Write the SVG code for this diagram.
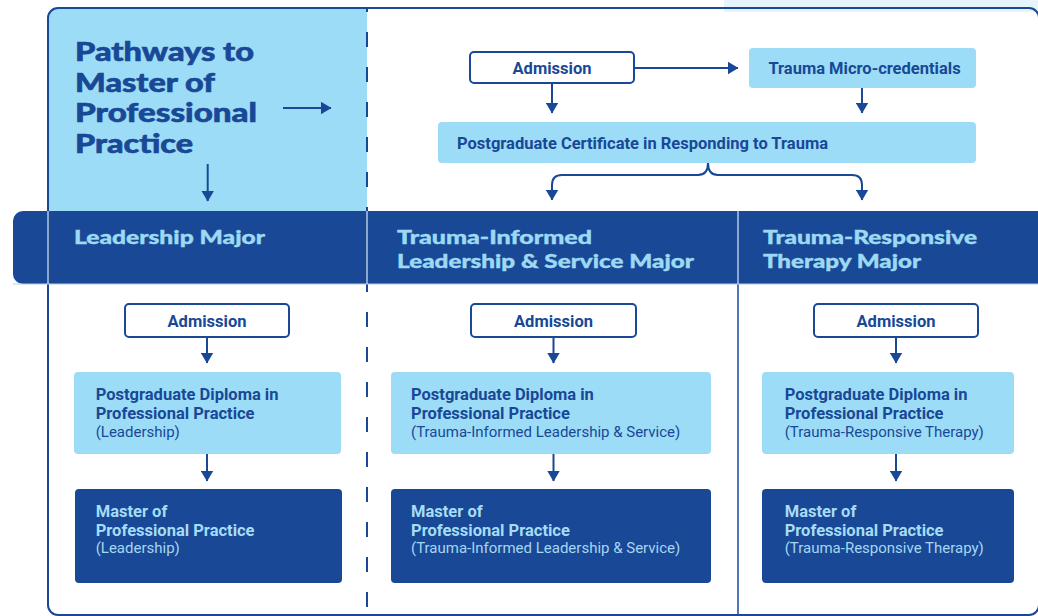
<svg xmlns="http://www.w3.org/2000/svg" width="1038" height="616" viewBox="0 0 1038 616">
<defs>
<marker id="ah" viewBox="0 0 11 13" refX="10.5" refY="6.5" markerWidth="11" markerHeight="13" markerUnits="userSpaceOnUse" orient="auto">
<path d="M0,0 L11,6.5 L0,13 Z" fill="#184896"/>
</marker>
<style>
.title{font-family:Lato,"Liberation Sans",sans-serif;font-weight:900;font-size:25.8px;fill:#184896;stroke:#184896;stroke-width:0.6}
.head{font-family:Lato,"Liberation Sans",sans-serif;font-weight:900;font-size:19.5px;fill:#9dd9f3;stroke:#9dd9f3;stroke-width:0.4}
.bt{font-family:Roboto,"Liberation Sans",sans-serif;font-weight:700;font-size:16.5px;fill:#184896}
.st{font-family:Roboto,"Liberation Sans",sans-serif;font-weight:400;font-size:15px;fill:#184896}
.btl{font-family:Roboto,"Liberation Sans",sans-serif;font-weight:700;font-size:16.5px;fill:#a6dcf5}
.stl{font-family:Roboto,"Liberation Sans",sans-serif;font-weight:400;font-size:15px;fill:#a6d6f2}
.white{fill:#ffffff;stroke:#184896;stroke-width:2}
.light{fill:#9ddcf7}
.dark{fill:#184896}
.conn{fill:none;stroke:#184896;stroke-width:2}
.mid{text-anchor:middle}
</style>
</defs>
<rect x="0" y="0" width="1038" height="616" fill="#ffffff"/>
<rect x="724" y="0" width="314" height="12" fill="#e6f5fb"/>
<g id="title-panel">
<path d="M48,211 V18 A10,10 0 0 1 58,8 H367 V211 Z" fill="#9ddcf7"/>
<text class="title" x="75" y="60.7" textLength="179" lengthAdjust="spacingAndGlyphs">Pathways to</text>
<text class="title" x="75" y="91.7" textLength="140" lengthAdjust="spacingAndGlyphs">Master of</text>
<text class="title" x="75" y="121.7" textLength="182" lengthAdjust="spacingAndGlyphs">Professional</text>
<text class="title" x="75" y="152.7" textLength="118" lengthAdjust="spacingAndGlyphs">Practice</text>
</g>
<rect x="48" y="8" width="991" height="607" rx="10" fill="none" stroke="#184896" stroke-width="2"/>
<line x1="367" y1="8" x2="367" y2="616" stroke="#184896" stroke-width="2" stroke-dasharray="15 20" stroke-dashoffset="11"/>
<line x1="738" y1="284" x2="738" y2="616" stroke="#184896" stroke-width="1.5"/>
<g id="band">
<path d="M23,211 H1038 V284 H23 A10,10 0 0 1 13,274 V221 A10,10 0 0 1 23,211 Z" fill="#184896"/>
<line x1="13" y1="284" x2="1038" y2="284" stroke="#b8cde6" stroke-width="1"/>
<line x1="48" y1="211" x2="48" y2="284" stroke="#dbe9f5" stroke-width="1.2"/>
<line x1="367" y1="211" x2="367" y2="284" stroke="#dbe9f5" stroke-width="1.2"/>
<line x1="738" y1="211" x2="738" y2="284" stroke="#dbe9f5" stroke-width="1.2"/>
</g>
<g id="head-leadership"><text class="head" x="74" y="244" textLength="191" lengthAdjust="spacingAndGlyphs">Leadership Major</text></g>
<g id="head-tils">
<text class="head" x="397" y="243.5" textLength="195" lengthAdjust="spacingAndGlyphs">Trauma-Informed</text>
<text class="head" x="397" y="267.5" textLength="297" lengthAdjust="spacingAndGlyphs">Leadership &amp; Service Major</text>
</g>
<g id="head-trt">
<text class="head" x="763" y="243.5" textLength="214" lengthAdjust="spacingAndGlyphs">Trauma-Responsive</text>
<text class="head" x="763" y="267.5" textLength="158" lengthAdjust="spacingAndGlyphs">Therapy Major</text>
</g>
<g id="admission-top">
<rect class="white" x="470" y="52" width="164" height="31" rx="4"/>
<text class="bt mid" x="552" y="74">Admission</text>
</g>
<g id="micro">
<rect class="light" x="749" y="48" width="227" height="40" rx="4"/>
<text class="bt mid" x="864.5" y="74">Trauma Micro-credentials</text>
</g>
<g id="cert">
<rect class="light" x="438" y="122" width="538" height="41" rx="4"/>
<text class="bt" x="457" y="149">Postgraduate Certificate in Responding to Trauma</text>
</g>
<g id="admission-l">
<rect class="white" x="125" y="304" width="164" height="33" rx="4"/>
<text class="bt mid" x="207" y="326.5">Admission</text>
</g>
<g id="diploma-l">
<rect class="light" x="74" y="372" width="267" height="82" rx="4"/>
<text class="bt" x="95.7" y="399.7">Postgraduate Diploma in</text>
<text class="bt" x="95.7" y="419.3">Professional Practice</text>
<text class="st" x="95.7" y="436.7">(Leadership)</text>
</g>
<g id="master-l">
<rect class="dark" x="75" y="489" width="267" height="94" rx="4"/>
<text class="btl" x="95.7" y="516.7">Master of</text>
<text class="btl" x="95.7" y="536">Professional Practice</text>
<text class="stl" x="95.7" y="553.3">(Leadership)</text>
</g>
<g id="admission-m">
<rect class="white" x="471" y="304" width="165" height="33" rx="4"/>
<text class="bt mid" x="553.5" y="326.5">Admission</text>
</g>
<g id="diploma-m">
<rect class="light" x="391" y="372" width="320" height="82" rx="4"/>
<text class="bt" x="411" y="399.7">Postgraduate Diploma in</text>
<text class="bt" x="411" y="419.3">Professional Practice</text>
<text class="st" x="411" y="436.7">(Trauma-Informed Leadership &amp; Service)</text>
</g>
<g id="master-m">
<rect class="dark" x="391" y="489" width="320" height="94" rx="4"/>
<text class="btl" x="411" y="516.7">Master of</text>
<text class="btl" x="411" y="536">Professional Practice</text>
<text class="stl" x="411" y="553.3">(Trauma-Informed Leadership &amp; Service)</text>
</g>
<g id="admission-r">
<rect class="white" x="814" y="304" width="164" height="33" rx="4"/>
<text class="bt mid" x="896" y="326.5">Admission</text>
</g>
<g id="diploma-r">
<rect class="light" x="762" y="372" width="252" height="82" rx="4"/>
<text class="bt" x="784.7" y="399.7">Postgraduate Diploma in</text>
<text class="bt" x="784.7" y="419.3">Professional Practice</text>
<text class="st" x="784.7" y="436.7">(Trauma-Responsive Therapy)</text>
</g>
<g id="master-r">
<rect class="dark" x="762" y="489" width="252" height="94" rx="4"/>
<text class="btl" x="784.7" y="516.7">Master of</text>
<text class="btl" x="784.7" y="536">Professional Practice</text>
<text class="stl" x="784.7" y="553.3">(Trauma-Responsive Therapy)</text>
</g>
<g id="connectors">
<path class="conn" d="M283,108 H331" marker-end="url(#ah)"/>
<path class="conn" d="M207.7,164 V201" marker-end="url(#ah)"/>
<path class="conn" d="M634,68 H738" marker-end="url(#ah)"/>
<path class="conn" d="M552,83 V113" marker-end="url(#ah)"/>
<path class="conn" d="M862,88 V113" marker-end="url(#ah)"/>
<path class="conn" d="M708,163 Q708,175 698,175 H562 Q552,175 552,185 V200" marker-end="url(#ah)"/>
<path class="conn" d="M708,163 Q708,175 718,175 H852 Q862,175 862,185 V200" marker-end="url(#ah)"/>
<path class="conn" d="M207,337 V363" marker-end="url(#ah)"/>
<path class="conn" d="M207,454 V481" marker-end="url(#ah)"/>
<path class="conn" d="M553.5,337 V363" marker-end="url(#ah)"/>
<path class="conn" d="M553.5,454 V481" marker-end="url(#ah)"/>
<path class="conn" d="M896,337 V363" marker-end="url(#ah)"/>
<path class="conn" d="M896,454 V481" marker-end="url(#ah)"/>
</g>
</svg>
